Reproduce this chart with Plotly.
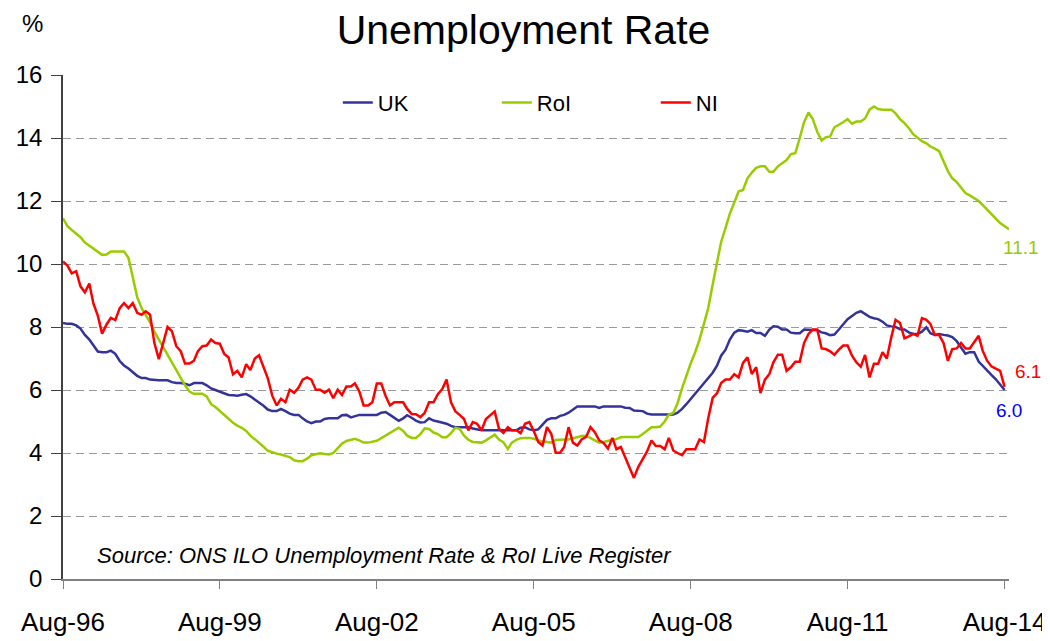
import pandas as pd
import plotly.graph_objects as go

# Monthly values, Aug-96 onwards (each row = Aug..Jul)
uk = [
    8.13, 8.1, 8.1, 8.05, 7.95, 7.75, 7.6, 7.4, 7.22, 7.2, 7.2, 7.25,
    7.15, 6.92, 6.78, 6.68, 6.57, 6.45, 6.38, 6.38, 6.33, 6.31, 6.31, 6.31,
    6.31, 6.25, 6.22, 6.22, 6.2, 6.15, 6.22, 6.22, 6.22, 6.15, 6.05, 6.0,
    5.95, 5.88, 5.84, 5.83, 5.82, 5.85, 5.87, 5.8, 5.7, 5.62, 5.5, 5.38,
    5.33, 5.33, 5.4, 5.33, 5.25, 5.21, 5.21, 5.1, 5.0, 4.95, 5.0, 5.0,
    5.08, 5.1, 5.1, 5.1, 5.2, 5.21, 5.13, 5.17, 5.21, 5.21, 5.21, 5.21,
    5.21, 5.28, 5.3, 5.21, 5.12, 5.02, 5.1, 5.2, 5.12, 5.03, 4.97, 4.98,
    5.1, 5.03, 5.0, 4.97, 4.93, 4.86, 4.82, 4.82, 4.82, 4.82, 4.78, 4.75,
    4.72, 4.72, 4.72, 4.72, 4.72, 4.72, 4.72, 4.72, 4.72, 4.8, 4.82, 4.75,
    4.72, 4.75, 4.9, 5.05, 5.1, 5.1, 5.18, 5.21, 5.28, 5.38, 5.48, 5.48,
    5.48, 5.48, 5.48, 5.43, 5.48, 5.48, 5.48, 5.48, 5.48, 5.44, 5.43, 5.35,
    5.33, 5.33, 5.25, 5.22, 5.22, 5.22, 5.22, 5.22, 5.22, 5.28, 5.4, 5.55,
    5.72, 5.9, 6.03, 6.2, 6.38, 6.55, 6.78, 7.09, 7.28, 7.6, 7.82, 7.9,
    7.88, 7.85, 7.9, 7.81, 7.81, 7.72, 7.92, 8.02, 8.01, 7.92, 7.92, 7.82,
    7.8, 7.8, 7.92, 7.92, 7.92, 7.9, 7.83, 7.8, 7.74, 7.76, 7.92, 8.08,
    8.25, 8.35, 8.45, 8.5, 8.4, 8.32, 8.28, 8.25, 8.17, 8.05, 8.02, 8.0,
    7.93, 7.92, 7.83, 7.78, 7.78, 7.85, 7.99, 7.8, 7.75, 7.78, 7.75, 7.73,
    7.68, 7.55, 7.35, 7.15, 7.2, 7.2, 6.9, 6.76, 6.6, 6.48, 6.34, 6.19,
    6.0,
]

roi = [
    11.45, 11.2, 11.08, 10.95, 10.85, 10.68, 10.58, 10.5, 10.4, 10.29, 10.3, 10.4,
    10.4, 10.4, 10.4, 10.2, 9.6, 8.95, 8.6, 8.4, 8.15, 7.85, 7.6, 7.35,
    7.1, 6.85, 6.6, 6.35, 6.15, 5.95, 5.88, 5.88, 5.88, 5.8, 5.55, 5.46,
    5.33, 5.2, 5.06, 4.96, 4.87, 4.8, 4.7, 4.55, 4.44, 4.33, 4.2, 4.07,
    4.02, 3.98, 3.95, 3.92, 3.87, 3.77, 3.74, 3.74, 3.82, 3.93, 3.95, 3.99,
    3.97, 3.95, 4.0, 4.15, 4.3, 4.38, 4.41, 4.45, 4.4, 4.33, 4.33, 4.35,
    4.39, 4.47, 4.55, 4.62, 4.7, 4.8, 4.7, 4.55, 4.48, 4.48, 4.6, 4.78,
    4.76, 4.65, 4.6, 4.5, 4.5, 4.63, 4.8, 4.77, 4.55, 4.42, 4.35, 4.33,
    4.33, 4.4, 4.48, 4.58, 4.43, 4.34, 4.13, 4.33, 4.42, 4.47, 4.48, 4.48,
    4.45, 4.4, 4.36, 4.35, 4.33, 4.41, 4.43, 4.43, 4.43, 4.47, 4.51, 4.54,
    4.55, 4.47, 4.4, 4.33, 4.35, 4.39, 4.42, 4.44, 4.5, 4.51, 4.51, 4.51,
    4.51, 4.6, 4.72, 4.82, 4.82, 4.84, 5.0, 5.22, 5.27, 5.58, 6.05, 6.45,
    6.85, 7.2, 7.6, 8.1, 8.6, 9.35, 10.1, 10.7, 11.15, 11.6, 11.95, 12.3,
    12.35, 12.72, 12.9, 13.05, 13.1, 13.1, 12.93, 12.93, 13.1, 13.21, 13.3, 13.49,
    13.52, 14.0, 14.5, 14.81, 14.6, 14.2, 13.92, 14.02, 14.05, 14.34, 14.41, 14.5,
    14.6, 14.45, 14.52, 14.52, 14.62, 14.9, 15.0, 14.92, 14.9, 14.9, 14.9, 14.78,
    14.6, 14.47, 14.32, 14.12, 14.0, 13.9, 13.83, 13.73, 13.66, 13.58, 13.26, 12.95,
    12.72, 12.6, 12.43, 12.25, 12.18, 12.1, 12.0, 11.88, 11.72, 11.57, 11.44, 11.3,
    11.2, 11.1,
]

ni = [
    10.08, 9.95, 9.7, 9.77, 9.29, 9.1, 9.38, 8.75, 8.36, 7.79, 8.08, 8.29,
    8.22, 8.6, 8.76, 8.6, 8.76, 8.45, 8.39, 8.5, 8.39, 7.49, 6.98, 7.49,
    8.0, 7.86, 7.39, 7.23, 6.84, 6.84, 6.93, 7.23, 7.39, 7.41, 7.6, 7.49,
    7.47, 7.14, 7.03, 6.5, 6.61, 6.4, 6.82, 6.63, 7.0, 7.1, 6.72, 6.37,
    5.82, 5.51, 5.72, 5.61, 6.01, 5.91, 6.08, 6.33, 6.4, 6.33, 6.01, 6.01,
    5.91, 6.01, 5.74, 6.01, 5.84, 6.11, 6.11, 6.21, 5.95, 5.51, 5.51, 5.61,
    6.21, 6.21, 5.82, 5.51, 5.61, 5.61, 5.61, 5.4, 5.24, 5.23, 5.14, 5.27,
    5.61, 5.61, 5.87, 6.03, 6.33, 5.61, 5.32, 5.21, 5.08, 4.72, 4.98, 4.93,
    4.72, 5.08, 5.21, 5.32, 4.77, 4.64, 4.82, 4.72, 4.72, 4.63, 4.93, 4.98,
    4.7, 4.35, 4.24, 4.82, 4.61, 4.01, 4.01, 4.19, 4.82, 4.33, 4.24, 4.43,
    4.51, 4.82, 4.66, 4.4, 4.32, 4.14, 4.48, 4.12, 4.19, 3.87, 3.5, 3.21,
    3.56, 3.82, 4.05, 4.4, 4.22, 4.22, 4.12, 4.48, 4.08, 4.0, 3.93, 4.12,
    4.12, 4.12, 4.43, 4.35, 5.1, 5.75, 5.9, 6.22, 6.33, 6.33, 6.5, 6.4,
    6.86, 7.04, 6.51, 6.72, 5.9, 6.33, 6.51, 6.88, 7.12, 7.12, 6.61, 6.72,
    6.9, 6.9, 7.49, 7.78, 7.92, 7.92, 7.32, 7.3, 7.23, 7.12, 7.28, 7.41,
    7.41, 7.09, 6.88, 6.74, 7.11, 6.4, 6.83, 6.83, 7.2, 7.0, 7.67, 8.23,
    8.13, 7.64, 7.7, 7.78, 7.72, 8.28, 8.23, 8.1, 7.75, 7.75, 7.49, 6.93,
    7.3, 7.32, 7.49, 7.32, 7.32, 7.51, 7.72, 7.25, 6.93, 6.75, 6.67, 6.61,
    6.1,
]

tick_labels = ["Aug-96", "Aug-99", "Aug-02", "Aug-05", "Aug-08", "Aug-11", "Aug-14"]
tick_dates = ["1996-08-01", "1999-08-01", "2002-08-01", "2005-08-01",
              "2008-08-01", "2011-08-01", "2014-08-01"]

dates = pd.date_range("1996-08-01", periods=len(roi), freq="MS")

FONT = "Liberation Sans, Arial, sans-serif"
C_UK, C_ROI, C_NI = "#333399", "#99CC00", "#FF0000"

# The page body has an 8px default margin, so the figure is sized to fit
# inside the 1050x641 window at that offset.
W, H = 1042, 633

fig = go.Figure()
fig.add_trace(go.Scatter(x=dates[:len(uk)], y=uk, name="UK", mode="lines",
                         line=dict(color=C_UK, width=2.5)))
fig.add_trace(go.Scatter(x=dates[:len(roi)], y=roi, name="RoI", mode="lines",
                         line=dict(color=C_ROI, width=2.5)))
fig.add_trace(go.Scatter(x=dates[:len(ni)], y=ni, name="NI", mode="lines",
                         line=dict(color=C_NI, width=2.5)))

# end-value labels
fig.add_annotation(x=dates[len(roi) - 1], y=roi[-1], text=f"{roi[-1]:.1f}",
                   showarrow=False, xshift=12, yshift=-18,
                   font=dict(color=C_ROI, size=19, family=FONT))
fig.add_annotation(x=dates[len(ni) - 1], y=ni[-1], text=f"{ni[-1]:.1f}",
                   showarrow=False, xshift=23, yshift=15,
                   font=dict(color=C_NI, size=19, family=FONT))
fig.add_annotation(x=dates[len(uk) - 1], y=uk[-1], text=f"{uk[-1]:.1f}",
                   showarrow=False, xshift=4, yshift=-20,
                   font=dict(color="#0000FF", size=19, family=FONT))

fig.add_annotation(xref="paper", yref="paper", x=0.0335, y=0.046,
                   xanchor="left", yanchor="middle", showarrow=False,
                   text="<i>Source: ONS ILO Unemployment Rate &amp; RoI Live Register</i>",
                   font=dict(size=22, family=FONT, color="#000"))
fig.add_annotation(xref="paper", yref="paper", x=-0.032, y=1.102,
                   xanchor="center", yanchor="middle", showarrow=False,
                   text="%", font=dict(size=24, family=FONT, color="#000"))

fig.update_layout(
    width=W, height=H,
    margin=dict(l=55, r=41, t=67, b=62),
    paper_bgcolor="white", plot_bgcolor="white",
    font=dict(family=FONT, color="#000"),
    title=dict(text="Unemployment Rate", x=515.5 / W, xanchor="center",
               y=1 - 22 / H, yanchor="middle",
               font=dict(size=41, family=FONT, color="#000")),
    legend=dict(orientation="h", x=0.2905, y=0.945, xanchor="left", yanchor="middle",
                entrywidth=114, entrywidthmode="pixels",
                font=dict(size=22, family=FONT), bgcolor="rgba(0,0,0,0)"),
    showlegend=True,
)
fig.update_xaxes(
    range=[dates[0], dates[len(roi) - 1]], automargin=False,
    tickvals=tick_dates, ticktext=tick_labels,
    showgrid=False, zeroline=False,
    showline=True, linecolor="#808080", linewidth=2,
    ticks="outside", ticklen=8, tickcolor="#808080", tickwidth=1,
    ticklabelstandoff=11,
    tickfont=dict(size=26, family=FONT, color="#000"),
)
fig.update_yaxes(
    range=[0, 16], dtick=2, tick0=0, automargin=False,
    showgrid=True, gridcolor="#9a9a9a", griddash="8px,5px", gridwidth=1,
    zeroline=False, showline=True, linecolor="#404040", linewidth=1.5,
    ticks="outside", ticklen=10, tickcolor="#404040",
    ticklabelstandoff=4,
    tickfont=dict(size=24, family=FONT, color="#000"),
)

fig.write_html("out.html")
